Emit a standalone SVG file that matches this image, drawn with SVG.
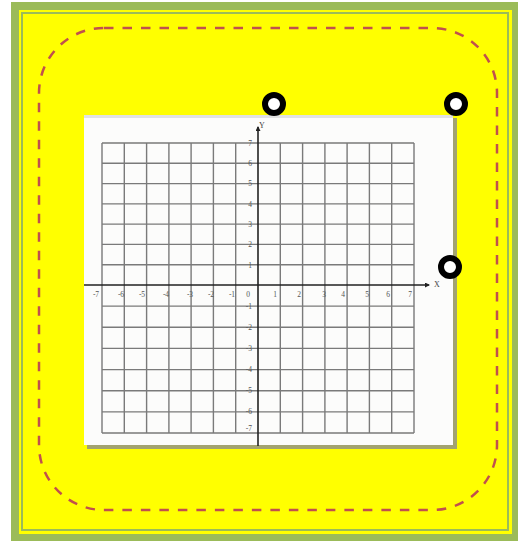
<svg xmlns="http://www.w3.org/2000/svg" width="518" height="541" viewBox="0 0 518 541">
<style>
.grid{stroke:#7a7a7a;stroke-width:1.4;fill:none}
.axis{stroke:#222222;stroke-width:1.6;fill:none}
.tick{font-family:"Liberation Serif",serif;font-size:7.5px;fill:#555}
.lab{font-family:"Liberation Serif",serif;font-size:8px;fill:#444}
.dot{fill:#ffffff;stroke:#000000;stroke-width:6}
</style>
<defs>
<marker id="arr" viewBox="0 0 10 10" refX="8" refY="5" markerWidth="5" markerHeight="5" orient="auto-start-reverse" markerUnits="userSpaceOnUse">
<path d="M0,0 L10,5 L0,10 z" fill="#222222"/>
</marker>
</defs>
<rect width="518" height="541" fill="#ffffff"/>
<g id="frame">
<rect x="11" y="2" width="507" height="539" fill="#9bbb59"/>
<rect x="19" y="10" width="493" height="524" fill="#ffff00"/>
<rect x="22" y="13" width="486" height="517" fill="#ffff00" stroke="#9bbb59" stroke-width="2"/>
</g>
<g id="dashed-box">
<rect x="39" y="28" width="458" height="482" rx="65" ry="65" fill="none" stroke="#c0504d" stroke-width="2.5" stroke-dasharray="9.5 9"/>
</g>
<g id="panel">
<rect x="87" y="118" width="370" height="331" fill="#8c8c8c" opacity="0.8"/>
<rect x="84" y="115" width="369" height="330" fill="#fcfcfb"/>
<rect x="84" y="115" width="369" height="3" fill="#e2e2e2"/>
<g class="grid">
<path d="M102 143V433M124.3 143V433M146.6 143V433M168.9 143V433M191.1 143V433M213.4 143V433M235.7 143V433M280.3 143V433M302.6 143V433M324.9 143V433M347.1 143V433M369.4 143V433M391.7 143V433M414 143V433"/>
<path d="M102 143H414M102 163.3H414M102 183.6H414M102 203.9H414M102 224.1H414M102 244.4H414M102 264.7H414M102 306.1H414M102 327.3H414M102 348.4H414M102 369.6H414M102 390.7H414M102 411.9H414M102 433H414"/>
</g>
<line class="axis" x1="84" y1="285" x2="429" y2="285" marker-end="url(#arr)"/>
<line class="axis" x1="258" y1="446" x2="258" y2="127" marker-end="url(#arr)"/>
<text class="lab" x="259" y="128">Y</text>
<text class="lab" x="434" y="287">X</text>
<g class="tick" text-anchor="middle">
<text x="96" y="297">-7</text>
<text x="121" y="297">-6</text>
<text x="142" y="297">-5</text>
<text x="166" y="297">-4</text>
<text x="190" y="297">-3</text>
<text x="211" y="297">-2</text>
<text x="232" y="297">-1</text>
<text x="248" y="297">0</text>
<text x="275" y="297">1</text>
<text x="299" y="297">2</text>
<text x="324" y="297">3</text>
<text x="343" y="297">4</text>
<text x="367" y="297">5</text>
<text x="388" y="297">6</text>
<text x="410" y="297">7</text>
</g>
<g class="tick" text-anchor="end">
<text x="252" y="146">7</text>
<text x="252" y="166">6</text>
<text x="252" y="186">5</text>
<text x="252" y="207">4</text>
<text x="252" y="227">3</text>
<text x="252" y="247">2</text>
<text x="252" y="268">1</text>
<text x="252" y="309">-1</text>
<text x="252" y="330">-2</text>
<text x="252" y="351">-3</text>
<text x="252" y="372">-4</text>
<text x="252" y="393">-5</text>
<text x="252" y="414">-6</text>
<text x="252" y="431">-7</text>
</g>
</g>
<g id="circle-1"><circle class="dot" cx="274" cy="104" r="9"/></g>
<g id="circle-2"><circle class="dot" cx="456" cy="104" r="9"/></g>
<g id="circle-3"><circle class="dot" cx="450" cy="267" r="9"/></g>
</svg>
